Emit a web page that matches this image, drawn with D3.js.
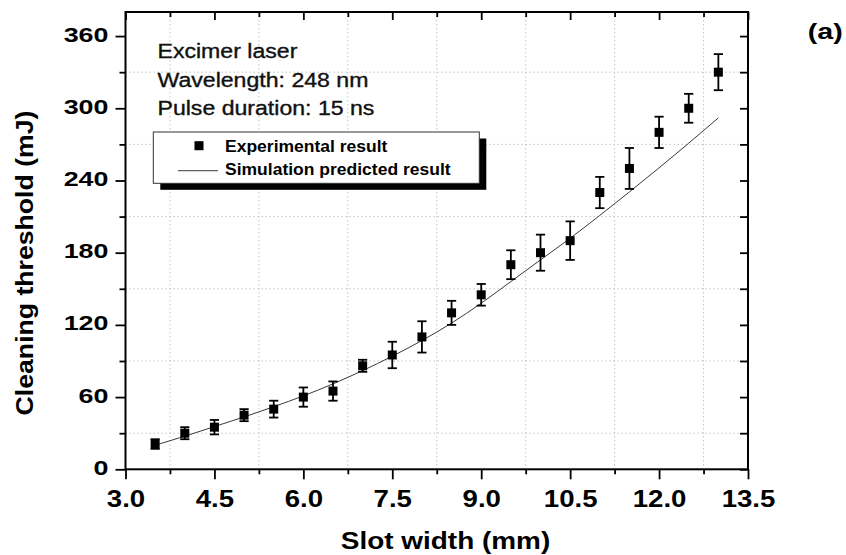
<!DOCTYPE html>
<html><head><meta charset="utf-8">
<script src="https://cdn.jsdelivr.net/npm/d3@7"></script>
<style>
html,body{margin:0;padding:0;background:#fff;}
svg{display:block;font-family:"Liberation Sans",Arial,Helvetica,sans-serif;}
</style></head><body>
<svg id="chart" width="846" height="555"></svg>
<script>
// ---- data ----
const slotWidths = [3.5,4.0,4.5,5.0,5.5,6.0,6.5,7.0,7.5,8.0,8.5,9.0,9.5,10.0,10.5,11.0,11.5,12.0,12.5,13.0];
const experimental = [21,30,35,45,50,60,65,86,95,110,130,145,170,180,190,230,250,280,300,330];
const experimentalError = [4,5,6,5,7,8,8,5,11,13,10,9,12,15,16,13,17,13,12,15];
const simulated = [20,27.5,35.5,43.5,52,61,71,82,94,107,121.5,138,156,174,192,211,230.5,250.5,271,292];
const xTickValues = [3.0,4.5,6.0,7.5,9.0,10.5,12.0,13.5];
const xMinorValues = [3.75,5.25,6.75,8.25,9.75,11.25,12.75];
const yTickValues = [0,60,120,180,240,300,360];
const yMinorValues = [30,90,150,210,270,330];
const annotationLines = ["Excimer laser","Wavelength: 248 nm","Pulse duration: 15 ns"];
const legendLabels = ["Experimental result","Simulation predicted result"];
const xTitle = "Slot width (mm)";
const yTitle = "Cleaning threshold (mJ)";
const panelLabel = "(a)";

// ---- layout ----
const m = {left:125.5, right:748, top:12, bottom:469.3};
const x = d3.scaleLinear().domain([3.0,13.5]).range([m.left,m.right]);
const y = d3.scaleLinear().domain([0,380]).range([m.bottom,m.top]);
const svg = d3.select("#chart");
const FONT = '"Liberation Sans",Arial,Helvetica,sans-serif';

// grid (at minor positions, dotted)
const grid = svg.append("g").attr("stroke","#c4c4c4").attr("stroke-width",1).attr("stroke-dasharray","1.5,2.5");
grid.selectAll("line.gx").data(xMinorValues).enter().append("line")
  .attr("x1",d=>x(d)).attr("x2",d=>x(d)).attr("y1",m.top).attr("y2",m.bottom);
grid.selectAll("line.gy").data(yMinorValues).enter().append("line")
  .attr("y1",d=>y(d)).attr("y2",d=>y(d)).attr("x1",m.left).attr("x2",m.right);

// axes
function styleAxis(g){
  g.select(".domain").remove();
  g.selectAll(".tick line").attr("stroke","#000").attr("stroke-width",1.8);
}
// bottom major
const gb = svg.append("g").attr("transform",`translate(0,${m.bottom})`)
  .call(d3.axisBottom(x).tickValues(xTickValues).tickSize(10).tickSizeOuter(0).tickFormat(d3.format(".1f")));
styleAxis(gb);
gb.selectAll(".tick text").attr("y",37.4).attr("dy",0)
  .attr("font-size",24).attr("font-weight","bold").attr("font-family",FONT).attr("fill","#000")
  .attr("transform","scale(1.15,1)");
const gbm = svg.append("g").attr("transform",`translate(0,${m.bottom})`)
  .call(d3.axisBottom(x).tickValues(xMinorValues).tickSize(5).tickSizeOuter(0).tickFormat(""));
styleAxis(gbm);
// top
const gt = svg.append("g").attr("transform",`translate(0,${m.top})`)
  .call(d3.axisTop(x).tickValues(xTickValues).tickSize(-8).tickSizeOuter(0).tickFormat(""));
styleAxis(gt);
const gtm = svg.append("g").attr("transform",`translate(0,${m.top})`)
  .call(d3.axisTop(x).tickValues(xMinorValues).tickSize(-5).tickSizeOuter(0).tickFormat(""));
styleAxis(gtm);
// left
const gl = svg.append("g").attr("transform",`translate(${m.left},0)`)
  .call(d3.axisLeft(y).tickValues(yTickValues).tickSize(10).tickSizeOuter(0));
styleAxis(gl);
gl.selectAll(".tick text").attr("x",-17/1.28).attr("dy",5)
  .attr("font-size",21).attr("font-weight","bold").attr("font-family",FONT).attr("fill","#000")
  .attr("transform","scale(1.28,1)");
const glm = svg.append("g").attr("transform",`translate(${m.left},0)`)
  .call(d3.axisLeft(y).tickValues(yMinorValues).tickSize(6).tickSizeOuter(0).tickFormat(""));
styleAxis(glm);
// right
const gr = svg.append("g").attr("transform",`translate(${m.right},0)`)
  .call(d3.axisRight(y).tickValues(yTickValues.concat(yMinorValues)).tickSize(-8).tickSizeOuter(0).tickFormat(""));
styleAxis(gr);

// frame
svg.append("rect").attr("x",m.left).attr("y",m.top)
  .attr("width",m.right-m.left).attr("height",m.bottom-m.top)
  .attr("fill","none").attr("stroke","#000").attr("stroke-width",2);

// simulation curve
const simData = slotWidths.map((d,i)=>[d,simulated[i]]);
svg.append("path").datum(simData)
  .attr("d",d3.line().x(d=>x(d[0])).y(d=>y(d[1])).curve(d3.curveMonotoneX))
  .attr("fill","none").attr("stroke","#3a3a3a").attr("stroke-width",1);

// experimental points with error bars
const expData = slotWidths.map((d,i)=>({x:d,v:experimental[i],e:experimentalError[i]}));
const pts = svg.append("g").selectAll("g").data(expData).enter().append("g");
pts.append("line").attr("x1",d=>x(d.x)).attr("x2",d=>x(d.x))
  .attr("y1",d=>y(d.v-d.e)).attr("y2",d=>y(d.v+d.e)).attr("stroke","#000").attr("stroke-width",1.8);
pts.append("line").attr("x1",d=>x(d.x)-4.6).attr("x2",d=>x(d.x)+4.6)
  .attr("y1",d=>y(d.v+d.e)).attr("y2",d=>y(d.v+d.e)).attr("stroke","#000").attr("stroke-width",1.8);
pts.append("line").attr("x1",d=>x(d.x)-4.6).attr("x2",d=>x(d.x)+4.6)
  .attr("y1",d=>y(d.v-d.e)).attr("y2",d=>y(d.v-d.e)).attr("stroke","#000").attr("stroke-width",1.8);
pts.append("rect").attr("x",d=>x(d.x)-4.5).attr("y",d=>y(d.v)-4.5)
  .attr("width",9).attr("height",9).attr("fill","#000");

// annotation text
const annBase = [58.3,87.3,115];
svg.append("g").selectAll("text").data(annotationLines).enter().append("text")
  .attr("transform",(d,i)=>`translate(157.5,${annBase[i]}) scale(1.185,1)`)
  .attr("font-size",19.5).attr("font-family",FONT).attr("fill","#111")
  .attr("stroke","#111").attr("stroke-width",0.35).text(d=>d);

// legend
const lg = svg.append("g");
lg.append("rect").attr("x",160.3).attr("y",138.5).attr("width",326).attr("height",51.3).attr("fill","#000");
lg.append("rect").attr("x",153.3).attr("y",132).attr("width",326).attr("height",51.3)
  .attr("fill","#fff").attr("stroke","#333").attr("stroke-width",1);
lg.append("rect").attr("x",199-4.5).attr("y",145.7-4.5).attr("width",9).attr("height",9).attr("fill","#000");
lg.append("line").attr("x1",178).attr("x2",218).attr("y1",170.7).attr("y2",170.7)
  .attr("stroke","#3a3a3a").attr("stroke-width",1);
const legBase = [152,175];
lg.selectAll("text").data(legendLabels).enter().append("text")
  .attr("transform",(d,i)=>`translate(225,${legBase[i]}) scale(1.03,1)`)
  .attr("font-size",17).attr("font-weight","bold").attr("font-family",FONT).attr("fill","#000").text(d=>d);

// axis titles
svg.append("text").attr("transform","translate(445.5,549.3) scale(1.14,1)")
  .attr("text-anchor","middle").attr("font-size",24.5).attr("font-weight","bold")
  .attr("font-family",FONT).attr("fill","#000").text(xTitle);
svg.append("text").attr("transform","translate(33.3,263) rotate(-90) scale(1.11,1)")
  .attr("text-anchor","middle").attr("font-size",24).attr("font-weight","bold")
  .attr("font-family",FONT).attr("fill","#000").text(yTitle);
svg.append("text").attr("transform","translate(825.2,38.7) scale(1.3,1)")
  .attr("text-anchor","middle").attr("font-size",22).attr("font-weight","bold")
  .attr("font-family",FONT).attr("fill","#000").text(panelLabel);
</script>
</body></html>
